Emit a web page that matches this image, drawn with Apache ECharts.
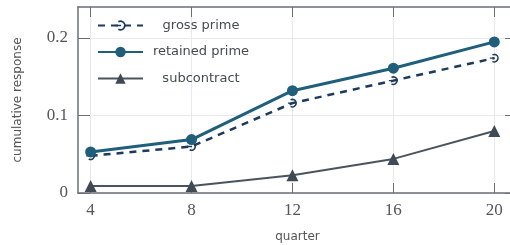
<!DOCTYPE html>
<html>
<head>
<meta charset="utf-8">
<script src="https://cdn.jsdelivr.net/npm/echarts@6/dist/echarts.min.js"></script>
<style>
  html, body { margin: 0; padding: 0; background: #fff; }
  #chart { width: 510px; height: 245px; }
</style>
</head>
<body>
<div id="chart"></div>
<script>
// quarters on the x axis
var quarters = [4, 8, 12, 16, 20];
var xTicks = [4, 8, 12, 16, 20];
var yTicks = [0, 0.1, 0.2];

// series values
var grossPrime = [0.048, 0.060, 0.116, 0.145, 0.174];
var retainedPrime = [0.053, 0.069, 0.132, 0.161, 0.195];
var subcontract = [0.009, 0.009, 0.023, 0.044, 0.080];

var seriesNames = ['gross prime', 'retained prime', 'subcontract'];

function pairs(vals) {
    return quarters.map(function (q, i) { return [q, vals[i]]; });
}

// reversed-c marker with a bar into its centre
var hookSymbol = 'path://M5 1.34 A10 10 0 1 1 5 18.66 L6.75 15.63 A6.5 6.5 0 1 0 6.75 4.37 Z M0 8.5 L11 8.5 L11 11.5 L0 11.5 Z';

var tickColor = '#6a6f75';
var gridColor = '#e6e9ef';

var myChart = echarts.init(document.getElementById('chart'));

var option = {
    backgroundColor: '#fff',
    animation: false,
    grid: {
        left: 78,
        top: 7,
        width: 439,
        height: 186,
        outerBoundsMode: 'none',
        containLabel: false
    },
    legend: {
        orient: 'vertical',
        left: 92,
        top: 14,
        itemWidth: 45,
        itemHeight: 13,
        itemGap: 13.5,
        data: seriesNames,
        formatter: function (name) { return '{t|' + name + '}'; },
        textStyle: {
            rich: {
                t: {
                    width: 106,
                    align: 'center',
                    fontFamily: 'DejaVu Sans',
                    fontSize: 13,
                    color: '#454b52'
                }
            }
        }
    },
    xAxis: [{
        type: 'value',
        min: 3.5,
        max: 20.9,
        name: 'quarter',
        nameLocation: 'middle',
        nameGap: 38,
        nameTextStyle: {fontFamily: 'DejaVu Sans', fontSize: 12, color: '#555'},
        axisLine: {show: true, onZero: false, lineStyle: {color: tickColor, width: 1.5}},
        axisTick: {show: true, inside: true, length: 10, customValues: xTicks, lineStyle: {color: tickColor, width: 1}},
        axisLabel: {customValues: xTicks, margin: 9, fontFamily: 'Liberation Serif', fontSize: 17, color: '#555'},
        splitLine: {show: true, customValues: xTicks, lineStyle: {color: gridColor, width: 1}}
    }, {
        type: 'value',
        position: 'top',
        min: 3.5,
        max: 20.9,
        axisLine: {show: true, onZero: false, lineStyle: {color: tickColor, width: 1.5}},
        axisTick: {show: true, inside: true, length: 10, customValues: xTicks, lineStyle: {color: tickColor, width: 1}},
        axisLabel: {show: false},
        splitLine: {show: false}
    }],
    yAxis: [{
        type: 'value',
        min: 0,
        max: 0.24,
        name: 'cumulative response',
        nameLocation: 'middle',
        nameGap: 54,
        nameTextStyle: {fontFamily: 'DejaVu Sans', fontSize: 12, color: '#555'},
        axisLine: {show: true, onZero: false, lineStyle: {color: tickColor, width: 1.5}},
        axisTick: {show: true, inside: true, length: 12, customValues: yTicks, lineStyle: {color: tickColor, width: 1}},
        axisLabel: {customValues: yTicks, margin: 10, fontFamily: 'Liberation Serif', fontSize: 17, color: '#555'},
        splitLine: {show: true, customValues: yTicks, lineStyle: {color: gridColor, width: 1}}
    }, {
        type: 'value',
        position: 'right',
        min: 0,
        max: 0.24,
        axisLine: {show: true, onZero: false, lineStyle: {color: tickColor, width: 1.5}},
        axisTick: {show: true, inside: true, length: 12, customValues: yTicks, lineStyle: {color: tickColor, width: 1}},
        axisLabel: {show: false},
        splitLine: {show: false}
    }],
    series: [{
        name: 'gross prime',
        type: 'line',
        data: pairs(grossPrime),
        symbol: hookSymbol,
        symbolSize: 9,
        lineStyle: {color: '#1c3b5c', width: 2.5, type: [7, 6]},
        itemStyle: {color: '#1c3b5c'},
        z: 3
    }, {
        name: 'retained prime',
        type: 'line',
        data: pairs(retainedPrime),
        symbol: 'circle',
        symbolSize: 11,
        lineStyle: {color: '#1f5f7b', width: 3},
        itemStyle: {color: '#1f5f7b'},
        z: 4
    }, {
        name: 'subcontract',
        type: 'line',
        data: pairs(subcontract),
        symbol: 'triangle',
        symbolSize: 12,
        lineStyle: {color: '#4a545e', width: 2},
        itemStyle: {color: '#3f4a55'},
        z: 2
    }]
};

option && myChart.setOption(option);
</script>
</body>
</html>
